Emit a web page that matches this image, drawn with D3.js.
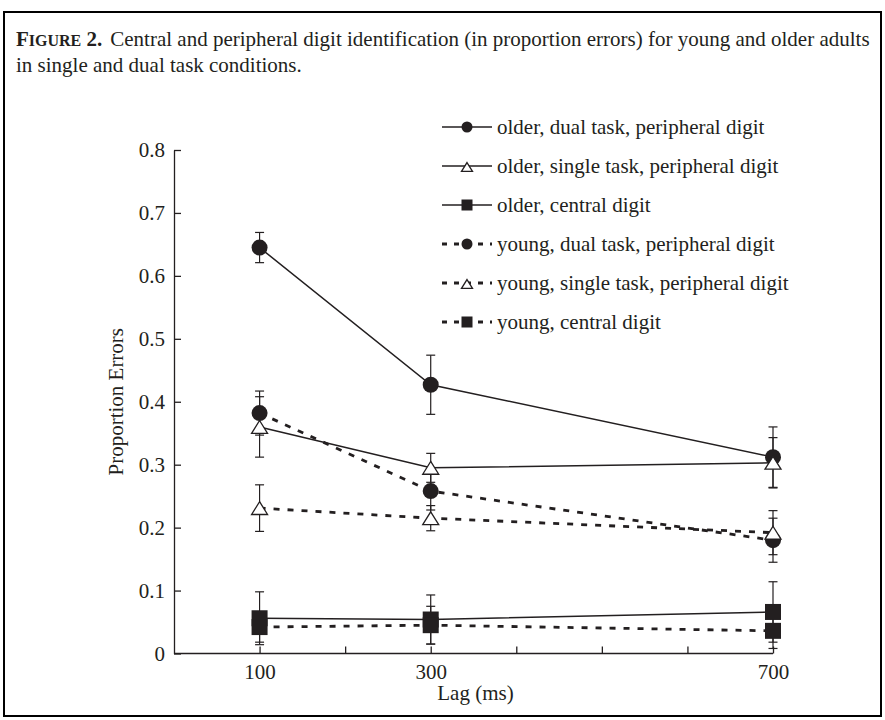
<!DOCTYPE html>
<html>
<head>
<meta charset="utf-8">
<script src="https://cdn.jsdelivr.net/npm/d3@7"></script>
<style>
  body { margin: 0; background: #fff; }
  text { font-family: "Liberation Serif", "Times New Roman", serif; fill: #231f20; }
</style>
</head>
<body>
<div id="chart"></div>
<script>
// Lag values on the x axis
const lags = [100, 300, 700];
const xTickValues = [100, 200, 300, 400, 500, 600, 700];
const xTickLabels = ['100', '', '300', '', '', '', '700'];
const yTickValues = [0, 0.1, 0.2, 0.3, 0.4, 0.5, 0.6, 0.7, 0.8];

// Proportion errors
const olderDual = [0.645, 0.427, 0.312];
const olderDualErr = [0.024, 0.047, 0.048];
const olderSingle = [0.36, 0.295, 0.303];
const olderSingleErr = [0.048, 0.023, 0.04];
const olderCentral = [0.056, 0.054, 0.066];
const olderCentralErr = [0.042, 0.039, 0.048];
const youngDual = [0.382, 0.258, 0.18];
const youngDualErr = [0.035, 0.03, 0.035];
const youngSingle = [0.231, 0.215, 0.192];
const youngSingleErr = [0.037, 0.02, 0.035];
const youngCentral = [0.042, 0.045, 0.036];
const youngCentralErr = [0.024, 0.03, 0.028];

const seriesNames = [
  'older, dual task, peripheral digit',
  'older, single task, peripheral digit',
  'older, central digit',
  'young, dual task, peripheral digit',
  'young, single task, peripheral digit',
  'young, central digit'
];

const series = [
  {name: seriesNames[0], values: olderDual, err: olderDualErr, shape: 'circle', dashed: false},
  {name: seriesNames[1], values: olderSingle, err: olderSingleErr, shape: 'triangle', dashed: false},
  {name: seriesNames[2], values: olderCentral, err: olderCentralErr, shape: 'square', dashed: false},
  {name: seriesNames[3], values: youngDual, err: youngDualErr, shape: 'circle', dashed: true},
  {name: seriesNames[4], values: youngSingle, err: youngSingleErr, shape: 'triangle', dashed: true},
  {name: seriesNames[5], values: youngCentral, err: youngCentralErr, shape: 'square', dashed: true}
];

const ink = '#231f20';
const fontSize = '21px';
const width = 885, height = 720;

const svg = d3.select('#chart').append('svg')
  .attr('width', width)
  .attr('height', height);

// figure frame
svg.append('rect')
  .attr('x', 4).attr('y', 12)
  .attr('width', 877).attr('height', 704)
  .attr('fill', 'none')
  .attr('stroke', '#000')
  .attr('stroke-width', 2);

// caption
const cap = svg.append('text')
  .attr('x', 16).attr('y', 46)
  .style('font-size', fontSize);
cap.append('tspan').style('font-weight', 'bold').text('F');
cap.append('tspan').style('font-weight', 'bold').style('font-size', '16px').text('IGURE');
cap.append('tspan').style('font-weight', 'bold').text(' 2.');
cap.append('tspan').attr('dx', 8).text('Central and peripheral digit identification (in proportion errors) for young and older adults');
svg.append('text')
  .attr('x', 16).attr('y', 72)
  .style('font-size', fontSize)
  .text('in single and dual task conditions.');

const x = d3.scaleLinear().domain([0, 700]).range([174, 773]);
const y = d3.scaleLinear().domain([0, 0.8]).range([653.5, 150]);

// axes, ticks pointing inward
const xAxis = d3.axisBottom(x).tickValues(xTickValues).tickSizeInner(-7).tickSizeOuter(0)
  .tickFormat((d, i) => xTickLabels[i]);
const yAxis = d3.axisLeft(y).tickValues(yTickValues).tickSizeInner(-7).tickSizeOuter(0)
  .tickFormat(d => d === 0 ? '0' : d3.format('.1f')(d));

const gx = svg.append('g')
  .attr('transform', `translate(0,${y(0)})`)
  .call(xAxis);
gx.select('.domain').attr('d', `M${x(0)},0H${x(700)}`);
gx.selectAll('text').attr('dy', null).attr('y', 25).style('font-size', fontSize).style('font-family', 'Liberation Serif').attr('fill', ink);

const gy = svg.append('g')
  .attr('transform', `translate(${x(0)},0)`)
  .call(yAxis);
gy.selectAll('text').attr('x', -9).style('font-size', fontSize).style('font-family', 'Liberation Serif').attr('fill', ink);

svg.selectAll('.domain, .tick line').attr('stroke', ink).attr('stroke-width', 1.3);

svg.append('text')
  .attr('transform', `translate(123,${(y(0) + y(0.8)) / 2}) rotate(-90)`)
  .style('text-anchor', 'middle')
  .style('font-size', fontSize)
  .text('Proportion Errors');

svg.append('text')
  .attr('x', (x(0) + x(700)) / 2 + 2)
  .attr('y', 700)
  .style('text-anchor', 'middle')
  .style('font-size', fontSize)
  .text('Lag (ms)');

function drawMarker(g, shape, cx, cy, s) {
  if (shape === 'circle') {
    g.append('circle').attr('cx', cx).attr('cy', cy).attr('r', s / 2).attr('fill', ink);
  } else if (shape === 'square') {
    g.append('rect').attr('x', cx - s / 2).attr('y', cy - s / 2)
      .attr('width', s).attr('height', s).attr('fill', ink);
  } else {
    const h = s * 0.8;
    g.append('path')
      .attr('d', `M${cx},${cy - h / 2}L${cx + s / 2},${cy + h / 2}L${cx - s / 2},${cy + h / 2}Z`)
      .attr('fill', '#fff').attr('stroke', ink).attr('stroke-width', 1.3);
  }
}

const plot = svg.append('g');

// error bars
series.forEach(s => {
  lags.forEach((lag, i) => {
    const cx = x(lag);
    const top = y(s.values[i] + s.err[i]), bot = y(s.values[i] - s.err[i]);
    plot.append('line').attr('x1', cx).attr('x2', cx).attr('y1', top).attr('y2', bot)
      .attr('stroke', ink).attr('stroke-width', 1.2);
    [top, bot].forEach(yy => {
      plot.append('line').attr('x1', cx - 4.5).attr('x2', cx + 4.5).attr('y1', yy).attr('y2', yy)
        .attr('stroke', ink).attr('stroke-width', 1.2);
    });
  });
});

const line = d3.line()
  .x((d, i) => x(lags[i]))
  .y(d => y(d));

series.forEach(s => {
  plot.append('path')
    .datum(s.values)
    .attr('d', line)
    .attr('fill', 'none')
    .attr('stroke', ink)
    .attr('stroke-width', s.dashed ? 2.8 : 1.5)
    .attr('stroke-dasharray', s.dashed ? '6,8' : null);
});

series.forEach(s => {
  lags.forEach((lag, i) => drawMarker(plot, s.shape, x(lag), y(s.values[i]), 16));
});

// legend
const legend = svg.append('g');
const legendX = 442, legendY = 127, legendStep = 39;
series.forEach((s, i) => {
  const ly = legendY + i * legendStep;
  const g = legend.append('g');
  g.append('line')
    .attr('x1', legendX).attr('x2', legendX + 50)
    .attr('y1', ly).attr('y2', ly)
    .attr('stroke', ink)
    .attr('stroke-width', s.dashed ? 2.8 : 1.5)
    .attr('stroke-dasharray', s.dashed ? '5,7' : null);
  drawMarker(g, s.shape, legendX + 25, s.shape === 'triangle' ? ly + 1 : ly, 11);
  g.append('text')
    .attr('x', legendX + 55)
    .attr('y', ly + 7)
    .style('font-size', fontSize)
    .text(s.name);
});
</script>
</body>
</html>
